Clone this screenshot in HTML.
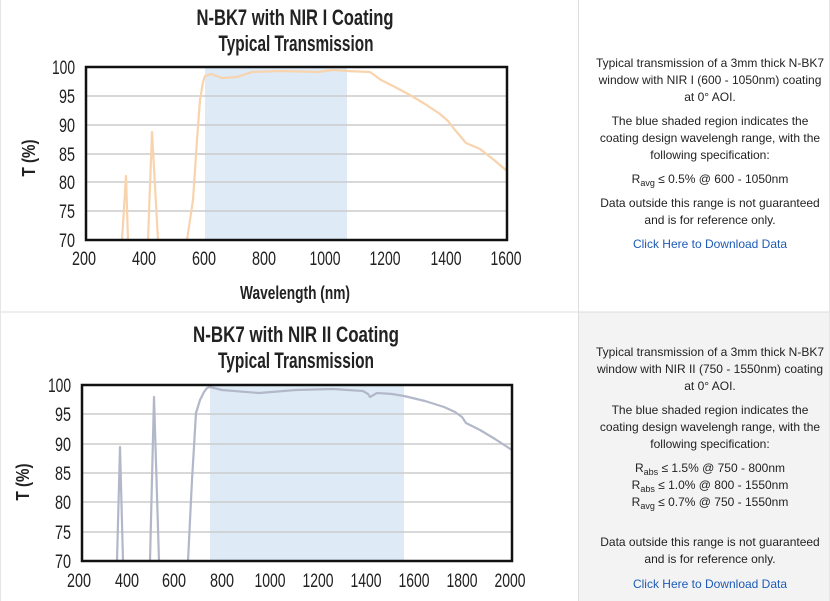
<!DOCTYPE html><html><head><meta charset="utf-8"><style>
body{margin:0;width:830px;height:601px;overflow:hidden;background:#fff}
svg{display:block}
.t{font-family:"Liberation Sans",sans-serif;font-weight:bold;fill:#222}
.k{font-family:"Liberation Sans",sans-serif;font-size:19px;fill:#222}
.r{font-family:"Liberation Sans",sans-serif;font-size:12px;fill:#222;text-anchor:middle}
.l{fill:#1d5bb5}
</style></head><body>
<svg width="830" height="601" viewBox="0 0 830 601">
<rect x="578" y="312" width="252" height="289" fill="#f3f3f3"/>
<line x1="0" y1="312" x2="830" y2="312" stroke="#ddd"/>
<line x1="578.5" y1="0" x2="578.5" y2="601" stroke="#ddd"/>
<line x1="0.5" y1="0" x2="0.5" y2="601" stroke="#e5e5e5"/>
<line x1="829.5" y1="0" x2="829.5" y2="601" stroke="#e5e5e5"/>

<!-- TOP CHART -->
<text class="t" x="295" y="25" font-size="22" text-anchor="middle" textLength="197" lengthAdjust="spacingAndGlyphs">N-BK7 with NIR I Coating</text>
<text class="t" x="296" y="51" font-size="22" text-anchor="middle" textLength="155" lengthAdjust="spacingAndGlyphs">Typical Transmission</text>
<rect x="205" y="67" width="142" height="173" fill="#deebf6"/>
<g stroke="#ccc" stroke-width="1.5">
<line x1="86" y1="96" x2="507" y2="96"/><line x1="86" y1="125" x2="507" y2="125"/><line x1="86" y1="154" x2="507" y2="154"/><line x1="86" y1="182" x2="507" y2="182"/><line x1="86" y1="211" x2="507" y2="211"/></g>
<g fill="none" stroke="#f8d3ad" stroke-width="2.2" stroke-linejoin="round">
<polyline points="122,240 126,176 128,240"/>
<polyline points="148,240 152,132 158,240"/>
<polyline points="187,240 193,200 197,140 200,100 203,82 205,76 211,74 222,78 237,77 252,72 281,71 318,72 333,70 347,71 370,72 381,80 395,87 410,95 425,104 440,114 448,121 455,130 466,143 480,149 494,160 507,171"/>
</g>
<rect x="86" y="67" width="421" height="173" fill="none" stroke="#111" stroke-width="2.5"/>
<g class="k" text-anchor="end">
<text x="75" y="74" textLength="23" lengthAdjust="spacingAndGlyphs">100</text><text x="75" y="103" textLength="16" lengthAdjust="spacingAndGlyphs">95</text><text x="75" y="132" textLength="16" lengthAdjust="spacingAndGlyphs">90</text><text x="75" y="161" textLength="16" lengthAdjust="spacingAndGlyphs">85</text><text x="75" y="189" textLength="16" lengthAdjust="spacingAndGlyphs">80</text><text x="75" y="218" textLength="16" lengthAdjust="spacingAndGlyphs">75</text><text x="75" y="247" textLength="16" lengthAdjust="spacingAndGlyphs">70</text></g>
<g class="k" text-anchor="middle">
<text x="84" y="265" textLength="24" lengthAdjust="spacingAndGlyphs">200</text><text x="144" y="265" textLength="24" lengthAdjust="spacingAndGlyphs">400</text><text x="204" y="265" textLength="24" lengthAdjust="spacingAndGlyphs">600</text><text x="264" y="265" textLength="24" lengthAdjust="spacingAndGlyphs">800</text><text x="325" y="265" textLength="31" lengthAdjust="spacingAndGlyphs">1000</text><text x="385" y="265" textLength="31" lengthAdjust="spacingAndGlyphs">1200</text><text x="446" y="265" textLength="31" lengthAdjust="spacingAndGlyphs">1400</text><text x="506" y="265" textLength="31" lengthAdjust="spacingAndGlyphs">1600</text></g>
<text class="t" x="295" y="299" font-size="18" text-anchor="middle" textLength="110" lengthAdjust="spacingAndGlyphs">Wavelength (nm)</text>
<text class="t" font-size="18" text-anchor="middle" transform="translate(35,158) rotate(-90)" textLength="37" lengthAdjust="spacingAndGlyphs">T (%)</text>

<!-- BOTTOM CHART -->
<text class="t" x="296" y="342" font-size="22" text-anchor="middle" textLength="206" lengthAdjust="spacingAndGlyphs">N-BK7 with NIR II Coating</text>
<text class="t" x="296" y="368" font-size="22" text-anchor="middle" textLength="156" lengthAdjust="spacingAndGlyphs">Typical Transmission</text>
<rect x="210" y="385" width="194" height="176" fill="#deebf6"/>
<g stroke="#ccc" stroke-width="1.5">
<line x1="82" y1="414" x2="512" y2="414"/><line x1="82" y1="444" x2="512" y2="444"/><line x1="82" y1="473" x2="512" y2="473"/><line x1="82" y1="502" x2="512" y2="502"/><line x1="82" y1="532" x2="512" y2="532"/></g>
<g fill="none" stroke="#b2b8c9" stroke-width="2.2" stroke-linejoin="round">
<polyline points="117,561 120,447 123,561"/>
<polyline points="150,561 154,397 159,561"/>
<polyline points="188,561 192,480 196,413 200,400 204,392 207,388 210,387 222,390 259,393 296,390 333,389 363,391 368,394 370,397 377,393 392,394 404,396 425,401 444,407 455,412 462,417 466,423 480,430 495,439 512,450"/>
</g>
<rect x="82" y="385" width="430" height="176" fill="none" stroke="#111" stroke-width="2.5"/>
<g class="k" text-anchor="end">
<text x="71" y="392" textLength="23" lengthAdjust="spacingAndGlyphs">100</text><text x="71" y="421" textLength="16" lengthAdjust="spacingAndGlyphs">95</text><text x="71" y="451" textLength="16" lengthAdjust="spacingAndGlyphs">90</text><text x="71" y="480" textLength="16" lengthAdjust="spacingAndGlyphs">85</text><text x="71" y="509" textLength="16" lengthAdjust="spacingAndGlyphs">80</text><text x="71" y="539" textLength="16" lengthAdjust="spacingAndGlyphs">75</text><text x="71" y="568" textLength="16" lengthAdjust="spacingAndGlyphs">70</text></g>
<g class="k" text-anchor="middle">
<text x="79" y="587" textLength="24" lengthAdjust="spacingAndGlyphs">200</text><text x="127" y="587" textLength="24" lengthAdjust="spacingAndGlyphs">400</text><text x="174" y="587" textLength="24" lengthAdjust="spacingAndGlyphs">600</text><text x="222" y="587" textLength="24" lengthAdjust="spacingAndGlyphs">800</text><text x="270" y="587" textLength="31" lengthAdjust="spacingAndGlyphs">1000</text><text x="318" y="587" textLength="31" lengthAdjust="spacingAndGlyphs">1200</text><text x="366" y="587" textLength="31" lengthAdjust="spacingAndGlyphs">1400</text><text x="414" y="587" textLength="31" lengthAdjust="spacingAndGlyphs">1600</text><text x="462" y="587" textLength="31" lengthAdjust="spacingAndGlyphs">1800</text><text x="510" y="587" textLength="31" lengthAdjust="spacingAndGlyphs">2000</text></g>
<text class="t" font-size="18" text-anchor="middle" transform="translate(29,482) rotate(-90)" textLength="37" lengthAdjust="spacingAndGlyphs">T (%)</text>

<!-- RIGHT TEXT TOP -->
<g class="r">
<text x="710" y="67">Typical transmission of a 3mm thick N-BK7</text>
<text x="710" y="84">window with NIR I (600 - 1050nm) coating</text>
<text x="710" y="101">at 0° AOI.</text>
<text x="710" y="125">The blue shaded region indicates the</text>
<text x="710" y="142">coating design wavelengh range, with the</text>
<text x="710" y="159">following specification:</text>
<text x="710" y="183">R<tspan font-size="9" dy="3">avg</tspan><tspan dy="-3"> ≤ 0.5% @ 600 - 1050nm</tspan></text>
<text x="710" y="207">Data outside this range is not guaranteed</text>
<text x="710" y="224">and is for reference only.</text>
<text x="710" y="248" class="l">Click Here to Download Data</text>
</g>
<!-- RIGHT TEXT BOTTOM -->
<g class="r">
<text x="710" y="356">Typical transmission of a 3mm thick N-BK7</text>
<text x="710" y="373">window with NIR II (750 - 1550nm) coating</text>
<text x="710" y="390">at 0° AOI.</text>
<text x="710" y="414">The blue shaded region indicates the</text>
<text x="710" y="431">coating design wavelengh range, with the</text>
<text x="710" y="448">following specification:</text>
<text x="710" y="472">R<tspan font-size="9" dy="3">abs</tspan><tspan dy="-3"> ≤ 1.5% @ 750 - 800nm</tspan></text>
<text x="710" y="489">R<tspan font-size="9" dy="3">abs</tspan><tspan dy="-3"> ≤ 1.0% @ 800 - 1550nm</tspan></text>
<text x="710" y="506">R<tspan font-size="9" dy="3">avg</tspan><tspan dy="-3"> ≤ 0.7% @ 750 - 1550nm</tspan></text>
<text x="710" y="546">Data outside this range is not guaranteed</text>
<text x="710" y="563">and is for reference only.</text>
<text x="710" y="588" class="l">Click Here to Download Data</text>
</g>
</svg></body></html>
